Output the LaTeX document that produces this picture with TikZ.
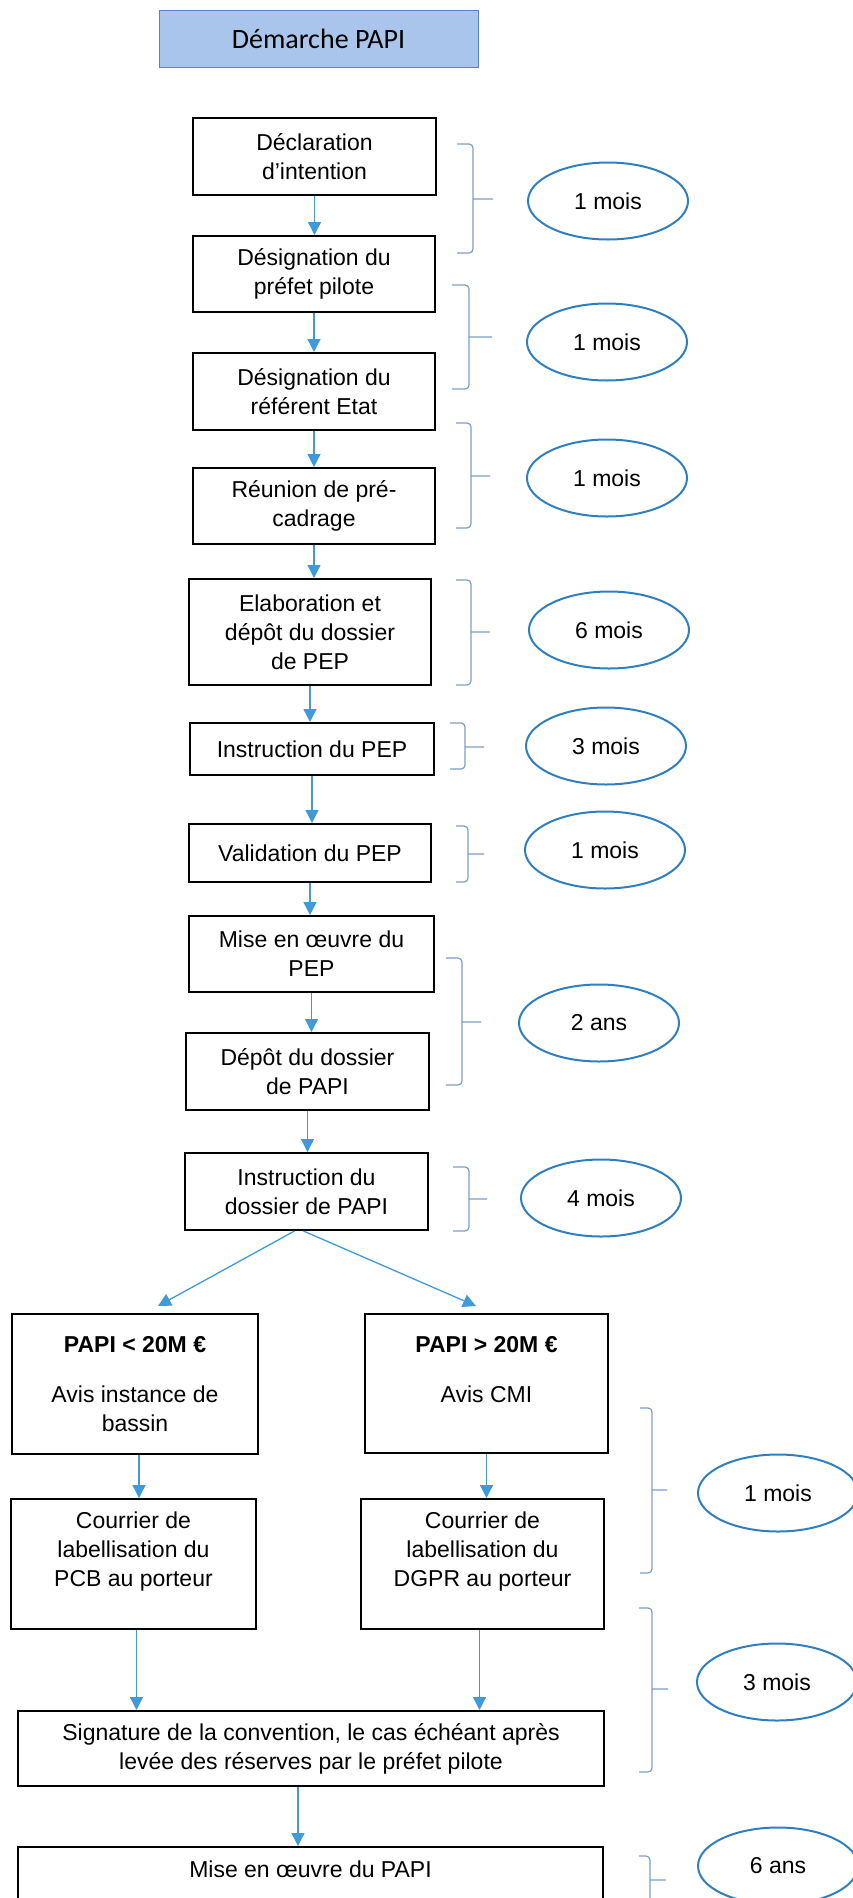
\documentclass[tikz,border=0pt]{standalone}
\usepackage{fontspec}
\setmainfont{Liberation Sans}
\newfontfamily\titlefont{Carlito}
\usetikzlibrary{shapes.geometric,arrows.meta}

\definecolor{head}{HTML}{A9C5EC}
\definecolor{headline}{HTML}{5B84C4}
\definecolor{flow}{HTML}{3E9AD8}
\definecolor{span}{HTML}{2F7EC0}
\definecolor{bracketline}{HTML}{7C9CC6}

\begin{document}
\begin{tikzpicture}[x=1pt,y=-1pt,
  titlebox/.style={draw=headline, fill=head, line width=1pt, minimum width=319pt, minimum height=57pt, font=\titlefont\fontsize{28}{34}\selectfont},
  stepbox/.style={draw, line width=2pt, align=center, minimum width=243pt, minimum height=77pt, inner sep=2pt, font=\fontsize{23}{29}\selectfont},
  timebox/.style={ellipse, draw=span, line width=2pt, minimum width=160pt, minimum height=77pt, font=\fontsize{23}{29}\selectfont},
  arr/.style={draw=flow, line width=1.3pt, -{Triangle[length=13pt,width=13pt]}},
  spanline/.style={draw=bracketline, line width=1.2pt, rounded corners=4pt}]

\useasboundingbox (0,0) rectangle (853,1898);
\clip (0,0) rectangle (853,1898);

\draw[solid]

(318.5,38.5) node[titlebox] (T) {Démarche PAPI}

(314.5,156.5) node[stepbox] (A) {Déclaration\\d'intention}
(314,274) node[stepbox, minimum width=242pt, minimum height=76pt] (B) {Désignation du\\préfet pilote}
(314,391.5) node[stepbox, minimum width=242pt] (C) {Désignation du\\référent Etat}
(314,506) node[stepbox, minimum width=242pt, minimum height=76pt] (D) {Réunion de pré-\\cadrage}
(310,632) node[stepbox, minimum width=242pt, minimum height=106pt] (E) {Elaboration et\\dépôt du dossier\\de PEP}
(312,749) node[stepbox, minimum width=244pt, minimum height=52pt] (F) {Instruction du PEP}
(310,853) node[stepbox, minimum width=242pt, minimum height=58pt] (G) {Validation du PEP}
(311.5,954) node[stepbox, minimum width=245pt, minimum height=76pt] (H) {Mise en œuvre du\\PEP}
(307.5,1071.5) node[stepbox] (I) {Dépôt du dossier\\de PAPI}
(306.5,1191.5) node[stepbox] (J) {Instruction du\\dossier de PAPI}
(135,1384) node[stepbox, minimum width=246pt, minimum height=140pt] (K) {\textbf{PAPI < 20M €}\\[21pt]Avis instance de\\bassin}
(486.5,1383.5) node[stepbox, minimum height=139pt] (L) {\textbf{PAPI > 20M €}\\[21pt]Avis CMI\\\mbox{}}
(133.5,1564) node[stepbox, minimum width=245pt, minimum height=130pt] (M) {Courrier de\\labellisation du\\PCB au porteur\\\mbox{}}
(482.5,1564) node[stepbox, minimum height=130pt] (N) {Courrier de\\labellisation du\\DGPR au porteur\\\mbox{}}
(311,1748.5) node[stepbox, minimum width=586pt, minimum height=75pt] (O) {Signature de la convention, le cas échéant après\\levée des réserves par le préfet pilote}
(310.5,1884) node[stepbox, minimum width=585pt, minimum height=74pt] (P) {Mise en œuvre du PAPI\\\mbox{}}

(608,201) node[timebox] (t1) {1 mois}
(607,342) node[timebox] (t2) {1 mois}
(607,478) node[timebox] (t3) {1 mois}
(609,630) node[timebox] (t4) {6 mois}
(606,746) node[timebox] (t5) {3 mois}
(605,850) node[timebox] (t6) {1 mois}
(599,1023) node[timebox] (t7) {2 ans}
(601,1198) node[timebox] (t8) {4 mois}
(778,1493) node[timebox] (t9) {1 mois}
(777,1682) node[timebox] (t10) {3 mois}
(778,1866) node[timebox] (t11) {6 ans};

\draw[arr] (A) -- (A |- B.north);
\draw[arr] (B) -- (B |- C.north);
\draw[arr] (C) -- (C |- D.north);
\draw[arr] (D) -- (D |- E.north);
\draw[arr] (E) -- (E |- F.north);
\draw[arr] (F) -- (F |- G.north);
\draw[arr] (G) -- (G |- H.north);
\draw[arr] (H) -- (H |- I.north);
\draw[arr] (I) -- (I |- J.north);
\draw[arr] ([xshift=-12pt]J.south) -- ([xshift=23pt,yshift=7pt]K.north);
\draw[arr] ([xshift=-3pt]J.south) -- ([xshift=-10.5pt,yshift=7pt]L.north);
\draw[arr] ([xshift=4pt]K.south) -- ([xshift=4pt]K.south |- M.north);
\draw[arr] (L) -- (L |- N.north);
\draw[arr] ([xshift=3pt]M.south) -- ([xshift=3pt]M.south |- O.north);
\draw[arr] ([xshift=-3pt]N.south) -- ([xshift=-3pt]N.south |- O.north);
\draw[arr] ([xshift=-13pt]O.south) -- ([xshift=-13pt]O.south |- P.north);

% brackets
\draw[spanline] (457,144) -- (473,144) -- (473,253) -- (457,253) (473,199) -- (493,199);
\draw[spanline] (452,285) -- (469,285) -- (469,389) -- (452,389) (469,337) -- (492,337);
\draw[spanline] (456,423) -- (471,423) -- (471,528) -- (456,528) (471,476) -- (490,476);
\draw[spanline] (456,580) -- (471,580) -- (471,685) -- (456,685) (471,632) -- (490,632);
\draw[spanline] (450,723) -- (465,723) -- (465,769) -- (450,769) (465,747) -- (484,747);
\draw[spanline] (456,826) -- (468,826) -- (468,882) -- (456,882) (468,854) -- (484,854);
\draw[spanline] (446,958) -- (462,958) -- (462,1085) -- (446,1085) (462,1022) -- (481,1022);
\draw[spanline] (453,1167) -- (469,1167) -- (469,1231) -- (453,1231) (469,1199) -- (487,1199);
\draw[spanline] (640,1408) -- (652,1408) -- (652,1573) -- (640,1573) (652,1490) -- (667,1490);
\draw[spanline] (639,1608) -- (652,1608) -- (652,1772) -- (639,1772) (652,1689) -- (668,1689);
\draw[spanline] (639,1856) -- (650,1856) -- (650,1930) -- (639,1930) (650,1880) -- (666,1880);
\end{tikzpicture}
\end{document}
